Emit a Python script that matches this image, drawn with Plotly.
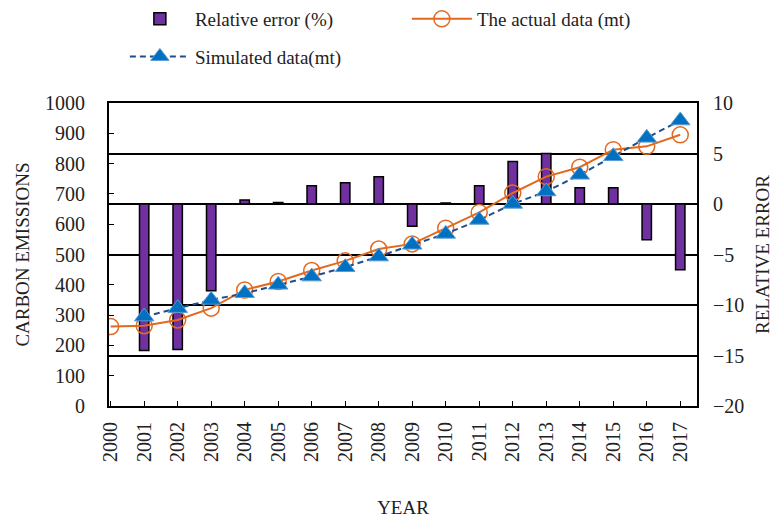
import plotly.graph_objects as go

years = list(range(2000, 2018))
year_labels = [str(y) for y in years]

actual = [262, 265, 284, 323, 383, 411, 447, 479, 518, 535, 587, 639, 703, 757, 788, 846, 857, 895]
sim_years = list(range(2001, 2018))
simulated = [295, 323, 350, 372, 400, 427, 458, 493, 532, 568, 614, 667, 708, 763, 824, 885, 942]
err_years = list(range(2001, 2018))
rel_error = [-14.5, -14.4, -8.6, 0.4, 0.15, 1.8, 2.1, 2.7, -2.2, 0.1, 1.8, 4.2, 5.0, 1.6, 1.6, -3.55, -6.5]

SERIF = "Liberation Serif"
FS = 20

fig = go.Figure()
fig.add_trace(go.Bar(
    x=err_years, y=rel_error, name="Relative error (%)", yaxis="y", width=0.28,
    marker=dict(color="#7030A0", line=dict(color="black", width=1.5)),
    legend="legend",
))
fig.add_trace(go.Scatter(
    x=years, y=actual, name="The actual data (mt)", yaxis="y2", mode="lines+markers",
    line=dict(color="#E2691E", width=2),
    marker=dict(symbol="circle", size=16, color="rgba(255,255,255,0)", line=dict(color="#E2691E", width=1.5)),
    legend="legend",
))
fig.add_trace(go.Scatter(
    x=sim_years, y=simulated, name="Simulated data(mt)", yaxis="y2", mode="lines+markers",
    line=dict(color="#1F4E8C", width=2, dash="6px,4px"),
    marker=dict(symbol="triangle-up", size=17, color="#0070C0", line=dict(color="#5B9BD5", width=1)),
    legend="legend2",
))

axis_font = dict(family=SERIF, size=FS, color="#222")
title_font = dict(family=SERIF, size=19, color="#222")
leg_font = dict(family=SERIF, size=19, color="#222")
fig.update_layout(
    width=781, height=522,
    margin=dict(l=109, r=84, t=103, b=116, autoexpand=False),
    paper_bgcolor="white", plot_bgcolor="white",
    font=dict(family=SERIF, size=FS, color="#222"),
    showlegend=True,
    xaxis=dict(
        range=[1999.95, 2017.5], tickmode="array", tickvals=years, ticktext=year_labels,
        tickangle=-90, ticks="inside", ticklen=5, tickcolor="black",
        showline=True, mirror=True, linecolor="black", linewidth=2,
        showgrid=False, zeroline=False, tickfont=axis_font, automargin=False,
        ticklabelstandoff=6,
        title=dict(text="YEAR", font=title_font, standoff=40),
    ),
    yaxis=dict(
        side="right", range=[-20, 10], dtick=5, tickmode="linear",
        showgrid=True, gridcolor="black", gridwidth=1.5,
        showline=True, linecolor="black", linewidth=2, zeroline=False,
        ticks="", tickfont=axis_font, automargin=False, ticklabelstandoff=10,
        title=dict(text="RELATIVE ERROR", font=title_font, standoff=12),
    ),
    yaxis2=dict(
        side="left", overlaying="y", range=[0, 1000], dtick=100, tickmode="linear",
        showgrid=False, showline=True, linecolor="black", linewidth=2, zeroline=False,
        ticks="inside", ticklen=5, tickcolor="black", tickfont=axis_font,
        automargin=False, ticklabelstandoff=18,
        title=dict(text="CARBON EMISSIONS", font=title_font, standoff=10),
    ),
    legend=dict(
        orientation="h", x=0.027, xref="paper", y=1.0, yref="container",
        xanchor="left", yanchor="top", itemwidth=60,
        font=leg_font, entrywidth=207, bgcolor="rgba(0,0,0,0)",
    ),
    legend2=dict(
        orientation="h", x=0.027, xref="paper", y=0.928, yref="container",
        xanchor="left", yanchor="top", itemwidth=60,
        font=leg_font, bgcolor="rgba(0,0,0,0)",
    ),
)

fig.write_html("out.html", config={"displayModeBar": False})

# remove the browser's default page margin so the figure sits at (0, 0)
with open("out.html", "r", encoding="utf-8") as f:
    html = f.read()
html = html.replace("<head>", "<head><style>html,body{margin:0;padding:0;overflow:hidden;}</style>", 1)
with open("out.html", "w", encoding="utf-8") as f:
    f.write(html)
